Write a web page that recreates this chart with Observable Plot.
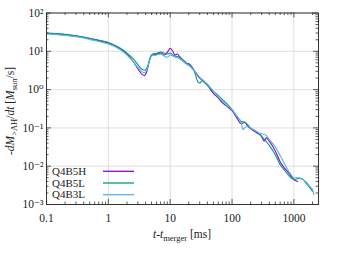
<!DOCTYPE html>
<html><head><meta charset="utf-8">
<script src="https://cdn.jsdelivr.net/npm/d3@7"></script>
<script src="https://cdn.jsdelivr.net/npm/@observablehq/plot@0.6"></script>
<style>body{margin:0;background:#fff}</style>
</head><body><div id="chart"></div>
<script>
const seriesNames = ["Q4B5H", "Q4B5L", "Q4B3L"];
const seriesColors = ["#9400d3", "#009e73", "#56b4e9"];

const tQ4B5H = [0.1,0.2,0.3,0.5,0.7,1,1.5,2,2.5,3,3.5,3.8,4.2,4.6,5,6,7,8,9,10,11,12,13,14,16,18,21,25,30,35,40,50,60,70,80,100,120,140,160,180,200,250,300,330,360,400,500,600,700,800,900,1000,1150];
const vQ4B5H = [29.5,27,25,21.5,19,16.5,12,8.5,5.5,3.5,2.5,2.35,3.0,5.5,8,8.3,9,8,9.5,12,10,8,8.5,7.5,6,5,4.5,3,2.0,1.6,1.3,0.8,0.6,0.45,0.38,0.28,0.18,0.13,0.14,0.11,0.095,0.075,0.06,0.045,0.055,0.045,0.025,0.013,0.009,0.007,0.0055,0.0045,0.004];

const tQ4B5L = [0.1,0.2,0.3,0.5,0.7,1,1.5,2,2.5,3,3.5,3.9,4.3,4.7,5.2,6,7,8,9,10,11,12,14,16,18,21,25,28,30,33,40,50,60,70,80,100,120,140,160,180,200,250,300,400,500,600,700,800,900,1000,1200,1400,1600,1800,2000];
const vQ4B5L = [30,28,25.5,22,19.5,17,12.5,9,6.5,4.5,3.4,3.2,4.0,6.5,8.5,8.8,9.5,9,8.5,9,8,7.5,7,6,5,4.2,2.8,1.6,1.5,1.7,1.3,0.9,0.7,0.55,0.45,0.3,0.2,0.15,0.14,0.12,0.1,0.08,0.06,0.035,0.02,0.011,0.008,0.006,0.005,0.0045,0.0048,0.0045,0.0035,0.0028,0.0022];

const tQ4B3L = [0.1,0.2,0.3,0.5,0.7,1,1.5,2,2.5,3,3.5,3.8,4.2,4.6,5,6,7,8,9,10,11,12,14,16,18,21,25,30,35,40,50,60,70,80,100,120,140,150,160,180,200,250,300,350,400,500,600,700,800,900,1000,1200,1400,1600,1800,2000,2100];
const vQ4B3L = [28.5,26,24,20.5,18,15.5,11.5,8,5.5,3.8,2.9,2.75,3.3,5.5,7.5,8,8.5,7.5,7,8,7.5,7,6.5,5.5,4.7,4,3,2.1,1.7,1.4,0.9,0.65,0.5,0.4,0.3,0.2,0.14,0.09,0.1,0.11,0.1,0.08,0.07,0.065,0.05,0.032,0.019,0.012,0.008,0.006,0.005,0.005,0.0045,0.0038,0.003,0.0025,0.0018];

const xMajor = [0.1, 1, 10, 100, 1000];
const xTickLabels = ["0.1", "1", "10", "100", "1000"];
const yMajor = [1e-3, 1e-2, 1e-1, 1, 10, 100];
const yTickLabels = ["10\u207B\u00B3", "10\u207B\u00B2", "10\u207B\u00B9", "10\u2070", "10\u00B9", "10\u00B2"];

const xMinor = [];
for (const d of [0.1, 1, 10, 100, 1000]) for (let k = 2; k <= 9; k++) if (d * k <= 2500) xMinor.push(d * k);
const yMinor = [];
for (const d of [1e-3, 1e-2, 1e-1, 1, 10]) for (let k = 2; k <= 9; k++) yMinor.push(d * k);

const rows = [];
[[tQ4B5H, vQ4B5H], [tQ4B5L, vQ4B5L], [tQ4B3L, vQ4B3L]].forEach(([ts, vs], i) => {
  ts.forEach((t, j) => rows.push({series: seriesNames[i], t, v: vs[j]}));
});

const xFmt = new Map(xMajor.map((d, i) => [d, xTickLabels[i]]));
const yFmt = new Map(yMajor.map((d, i) => [d, yTickLabels[i]]));

const W = 338, H = 254, mL = 46, mR = 20, mT = 12.5, mB = 50;
const fh = H - mT - mB, fw = W - mL - mR;
const tickStyle = {stroke: "#333", strokeWidth: 0.8};
const font = "Liberation Serif, DejaVu Serif, serif";
const fs = 11.5;

const plot = Plot.plot({
  width: W, height: H, marginLeft: mL, marginRight: mR, marginTop: mT, marginBottom: mB,
  style: {fontFamily: font, fontSize: fs + "px", background: "white", color: "#222"},
  x: {type: "log", domain: [0.1, 2500]},
  y: {type: "log", domain: [1e-3, 100]},
  color: {domain: seriesNames, range: seriesColors},
  marks: [
    Plot.gridX(xMajor, {stroke: "#d8d8d8", strokeOpacity: 1, strokeWidth: 0.8}),
    Plot.gridY(yMajor, {stroke: "#d8d8d8", strokeOpacity: 1, strokeWidth: 0.8}),
    Plot.line(rows, {x: "t", y: "v", z: "series", stroke: "series", strokeWidth: 1.1, curve: "monotone-x"}),
    Plot.tickX(xMajor, {x: d => d, insetTop: fh - 5, ...tickStyle}),
    Plot.tickX(xMajor, {x: d => d, insetBottom: fh - 5, ...tickStyle}),
    Plot.tickX(xMinor, {x: d => d, insetTop: fh - 2.5, ...tickStyle}),
    Plot.tickX(xMinor, {x: d => d, insetBottom: fh - 2.5, ...tickStyle}),
    Plot.tickY(yMajor, {y: d => d, insetRight: fw - 5, ...tickStyle}),
    Plot.tickY(yMajor, {y: d => d, insetLeft: fw - 5, ...tickStyle}),
    Plot.tickY(yMinor, {y: d => d, insetRight: fw - 2.5, ...tickStyle}),
    Plot.tickY(yMinor, {y: d => d, insetLeft: fw - 2.5, ...tickStyle}),
    Plot.axisX(xMajor, {tickSize: 0, tickPadding: 9, label: null, tickFormat: d => xFmt.get(d), fontSize: fs}),
    Plot.axisY(yMajor, {tickSize: 0, tickPadding: 3, label: null, tickFormat: d => yFmt.get(d), fontSize: fs}),
    Plot.frame({stroke: "#333", strokeWidth: 1})
  ]
});
document.getElementById("chart").appendChild(plot);

const svg = d3.select(plot);
// x label
const xl = svg.append("text").attr("x", 182).attr("y", 238).attr("text-anchor", "middle")
  .attr("font-family", font).attr("font-size", fs).attr("fill", "#222");
xl.append("tspan").attr("font-style", "italic").text("t");
xl.append("tspan").text("-");
xl.append("tspan").attr("font-style", "italic").text("t");
xl.append("tspan").attr("font-size", 8.5).attr("dy", 2.5).text("merger");
xl.append("tspan").attr("dy", -2.5).text(" [ms]");
// y label
const yl = svg.append("text").attr("transform", "translate(14,111) rotate(-90)").attr("text-anchor", "middle")
  .attr("font-family", font).attr("font-size", fs).attr("fill", "#222");
yl.append("tspan").text("-");
yl.append("tspan").attr("font-style", "italic").text("dM");
yl.append("tspan").attr("font-size", 8.5).attr("dy", 2.5).text(">AH");
yl.append("tspan").attr("dy", -2.5).text("/");
yl.append("tspan").attr("font-style", "italic").text("dt");
yl.append("tspan").text(" [");
yl.append("tspan").attr("font-style", "italic").text("M");
yl.append("tspan").attr("font-size", 8.5).attr("dy", 2.5).text("sun");
yl.append("tspan").attr("dy", -2.5).text("/s]");
// legend
seriesNames.forEach((name, i) => {
  const y = 171.3 + i * 11.7;
  svg.append("text").attr("x", 52).attr("y", y + 3.5).attr("text-anchor", "start").attr("font-family", font).attr("font-size", 11)
    .attr("fill", "#222").text(name);
  svg.append("line").attr("x1", 103).attr("x2", 134).attr("y1", y).attr("y2", y)
    .attr("stroke", seriesColors[i]).attr("stroke-width", 1.3);
});
</script></body></html>
